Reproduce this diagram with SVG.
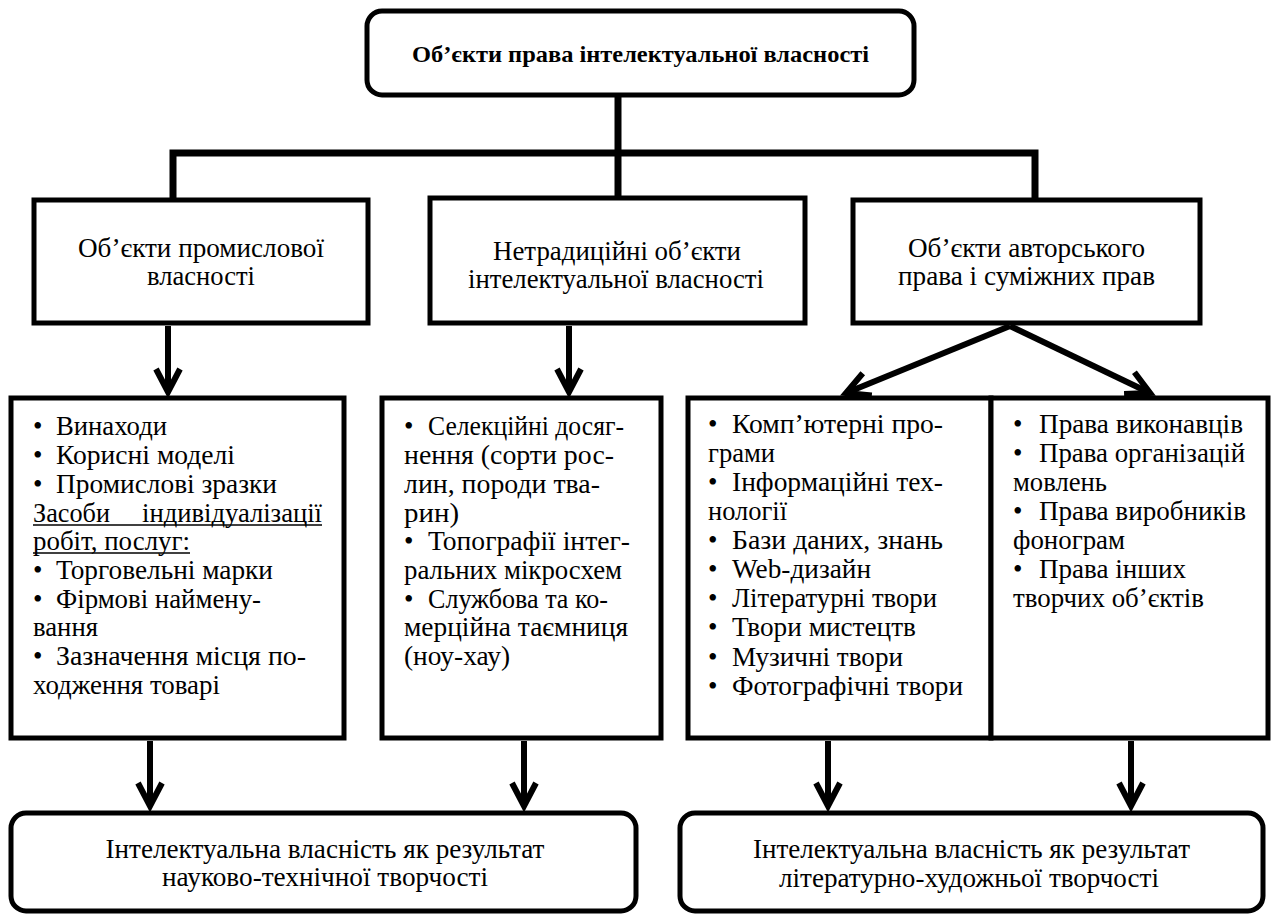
<svg xmlns="http://www.w3.org/2000/svg" width="1271" height="914" viewBox="0 0 1271 914">
<defs>
<style>
.box{fill:#fff;stroke:#000;stroke-width:5}
.ln{fill:none;stroke:#000;stroke-width:7}
.ar{fill:none;stroke:#000;stroke-width:6;marker-end:url(#ah)}
text{font-family:'Liberation Serif','DejaVu Serif','Times New Roman',serif;font-size:27px;fill:#000}
.c{text-anchor:middle}
.b{font-weight:bold;font-size:24px}
.ul{stroke:#000;stroke-width:1.5}
</style>
<marker id="ah" markerUnits="userSpaceOnUse" markerWidth="40" markerHeight="40" viewBox="-30 -20 40 40" refX="0" refY="0" orient="auto" overflow="visible">
<path d="M-23,-12 L0,0 L-23,12" fill="none" stroke="#000" stroke-width="6"/>
</marker>
</defs>
<g id="connectors">
<path class="ln" d="M618,95 V198"/>
<path class="ln" d="M173,200 V153 H1035 V200"/>
<path class="ar" d="M168,326 V392"/>
<path class="ar" d="M569,326 V392"/>
<path class="ar" d="M1010,326 L846,393"/>
<path class="ar" d="M1010,326 L1150,393"/>
<path class="ar" d="M150,741 V806"/>
<path class="ar" d="M524,741 V806"/>
<path class="ar" d="M828,741 V806"/>
<path class="ar" d="M1131,741 V806"/>
</g>
<g id="root">
<rect class="box" x="367" y="11" width="547" height="84" rx="15"/>
<text class="c b" x="640.5" y="62" textLength="457" lengthAdjust="spacingAndGlyphs">Об’єкти права інтелектуальної власності</text>
</g>
<g id="industrial">
<rect class="box" x="34" y="200" width="334" height="123"/>
<text class="c" x="201" y="257" textLength="246" lengthAdjust="spacingAndGlyphs">Об’єкти промислової</text>
<text class="c" x="201" y="285" textLength="108" lengthAdjust="spacingAndGlyphs">власності</text>
</g>
<g id="nontraditional">
<rect class="box" x="430" y="198" width="375" height="125"/>
<text class="c" x="617" y="260" textLength="248" lengthAdjust="spacingAndGlyphs">Нетрадиційні об’єкти</text>
<text class="c" x="616" y="288" textLength="296" lengthAdjust="spacingAndGlyphs">інтелектуальної власності</text>
</g>
<g id="copyright">
<rect class="box" x="853" y="200" width="347" height="123"/>
<text class="c" x="1026.5" y="257" textLength="237" lengthAdjust="spacingAndGlyphs">Об’єкти авторського</text>
<text class="c" x="1026.5" y="285" textLength="257" lengthAdjust="spacingAndGlyphs">права і суміжних прав</text>
</g>
<g id="industrial-list">
<rect class="box" x="11" y="398" width="333" height="340"/>
<text x="33" y="435">•</text><text x="56" y="435" textLength="111" lengthAdjust="spacingAndGlyphs">Винаходи</text>
<text x="33" y="464">•</text><text x="56" y="464" textLength="179" lengthAdjust="spacingAndGlyphs">Корисні моделі</text>
<text x="33" y="493">•</text><text x="56" y="493" textLength="221" lengthAdjust="spacingAndGlyphs">Промислові зразки</text>
<text x="33" y="522" textLength="77" lengthAdjust="spacingAndGlyphs">Засоби</text><text x="142" y="522" textLength="180" lengthAdjust="spacingAndGlyphs">індивідуалізації</text>
<line class="ul" x1="33" y1="525" x2="322" y2="525"/>
<text x="33" y="550" textLength="157" lengthAdjust="spacingAndGlyphs">робіт, послуг:</text>
<line class="ul" x1="33" y1="553" x2="190" y2="553"/>
<text x="33" y="579">•</text><text x="56" y="579" textLength="217" lengthAdjust="spacingAndGlyphs">Торговельні марки</text>
<text x="33" y="608">•</text><text x="56" y="608" textLength="205" lengthAdjust="spacingAndGlyphs">Фірмові наймену-</text>
<text x="33" y="636" textLength="65" lengthAdjust="spacingAndGlyphs">вання</text>
<text x="33" y="665">•</text><text x="56" y="665" textLength="250" lengthAdjust="spacingAndGlyphs">Зазначення місця по-</text>
<text x="33" y="694" textLength="187" lengthAdjust="spacingAndGlyphs">ходження товарі</text>
</g>
<g id="nontraditional-list">
<rect class="box" x="382" y="398" width="279" height="340"/>
<text x="404" y="435">•</text><text x="428" y="435" textLength="196" lengthAdjust="spacingAndGlyphs">Селекційні досяг-</text>
<text x="404" y="464" textLength="210" lengthAdjust="spacingAndGlyphs">нення (сорти рос-</text>
<text x="404" y="493" textLength="196" lengthAdjust="spacingAndGlyphs">лин, породи тва-</text>
<text x="404" y="522" textLength="55" lengthAdjust="spacingAndGlyphs">рин)</text>
<text x="404" y="550">•</text><text x="428" y="550" textLength="202" lengthAdjust="spacingAndGlyphs">Топографії інтег-</text>
<text x="404" y="579" textLength="218" lengthAdjust="spacingAndGlyphs">ральних мікросхем</text>
<text x="404" y="608">•</text><text x="428" y="608" textLength="180" lengthAdjust="spacingAndGlyphs">Службова та ко-</text>
<text x="404" y="636" textLength="224" lengthAdjust="spacingAndGlyphs">мерційна таємниця</text>
<text x="404" y="665" textLength="106" lengthAdjust="spacingAndGlyphs">(ноу-хау)</text>
</g>
<g id="copyright-list">
<rect class="box" x="688" y="398" width="303" height="340"/>
<text x="708" y="433">•</text><text x="732" y="433" textLength="211" lengthAdjust="spacingAndGlyphs">Комп’ютерні про-</text>
<text x="708" y="462" textLength="67" lengthAdjust="spacingAndGlyphs">грами</text>
<text x="708" y="491">•</text><text x="732" y="491" textLength="211" lengthAdjust="spacingAndGlyphs">Інформаційні тех-</text>
<text x="708" y="520" textLength="79" lengthAdjust="spacingAndGlyphs">нології</text>
<text x="708" y="549">•</text><text x="732" y="549" textLength="211" lengthAdjust="spacingAndGlyphs">Бази даних, знань</text>
<text x="708" y="578">•</text><text x="732" y="578" textLength="139" lengthAdjust="spacingAndGlyphs">Web-дизайн</text>
<text x="708" y="607">•</text><text x="732" y="607" textLength="205" lengthAdjust="spacingAndGlyphs">Літературні твори</text>
<text x="708" y="636">•</text><text x="732" y="636" textLength="184" lengthAdjust="spacingAndGlyphs">Твори мистецтв</text>
<text x="708" y="666">•</text><text x="732" y="666" textLength="171" lengthAdjust="spacingAndGlyphs">Музичні твори</text>
<text x="708" y="695">•</text><text x="732" y="695" textLength="231" lengthAdjust="spacingAndGlyphs">Фотографічні твори</text>
</g>
<g id="related-list">
<rect class="box" x="991" y="398" width="277" height="340"/>
<text x="1013" y="433">•</text><text x="1039" y="433" textLength="204" lengthAdjust="spacingAndGlyphs">Права виконавців</text>
<text x="1013" y="462">•</text><text x="1039" y="462" textLength="206" lengthAdjust="spacingAndGlyphs">Права організацій</text>
<text x="1013" y="491" textLength="94" lengthAdjust="spacingAndGlyphs">мовлень</text>
<text x="1013" y="520">•</text><text x="1039" y="520" textLength="207" lengthAdjust="spacingAndGlyphs">Права виробників</text>
<text x="1013" y="549" textLength="112" lengthAdjust="spacingAndGlyphs">фонограм</text>
<text x="1013" y="578">•</text><text x="1039" y="578" textLength="147" lengthAdjust="spacingAndGlyphs">Права інших</text>
<text x="1013" y="607" textLength="191" lengthAdjust="spacingAndGlyphs">творчих об’єктів</text>
</g>
<g id="scientific">
<rect class="box" x="11" y="813" width="625" height="98" rx="15"/>
<text class="c" x="325" y="858" textLength="439" lengthAdjust="spacingAndGlyphs">Інтелектуальна власність як результат</text>
<text class="c" x="325" y="886" textLength="326" lengthAdjust="spacingAndGlyphs">науково-технічної творчості</text>
</g>
<g id="literary">
<rect class="box" x="680" y="813" width="583" height="98" rx="15"/>
<text class="c" x="971.5" y="858" textLength="437" lengthAdjust="spacingAndGlyphs">Інтелектуальна власність як результат</text>
<text class="c" x="969" y="887" textLength="380" lengthAdjust="spacingAndGlyphs">літературно-художньої творчості</text>
</g>
</svg>
